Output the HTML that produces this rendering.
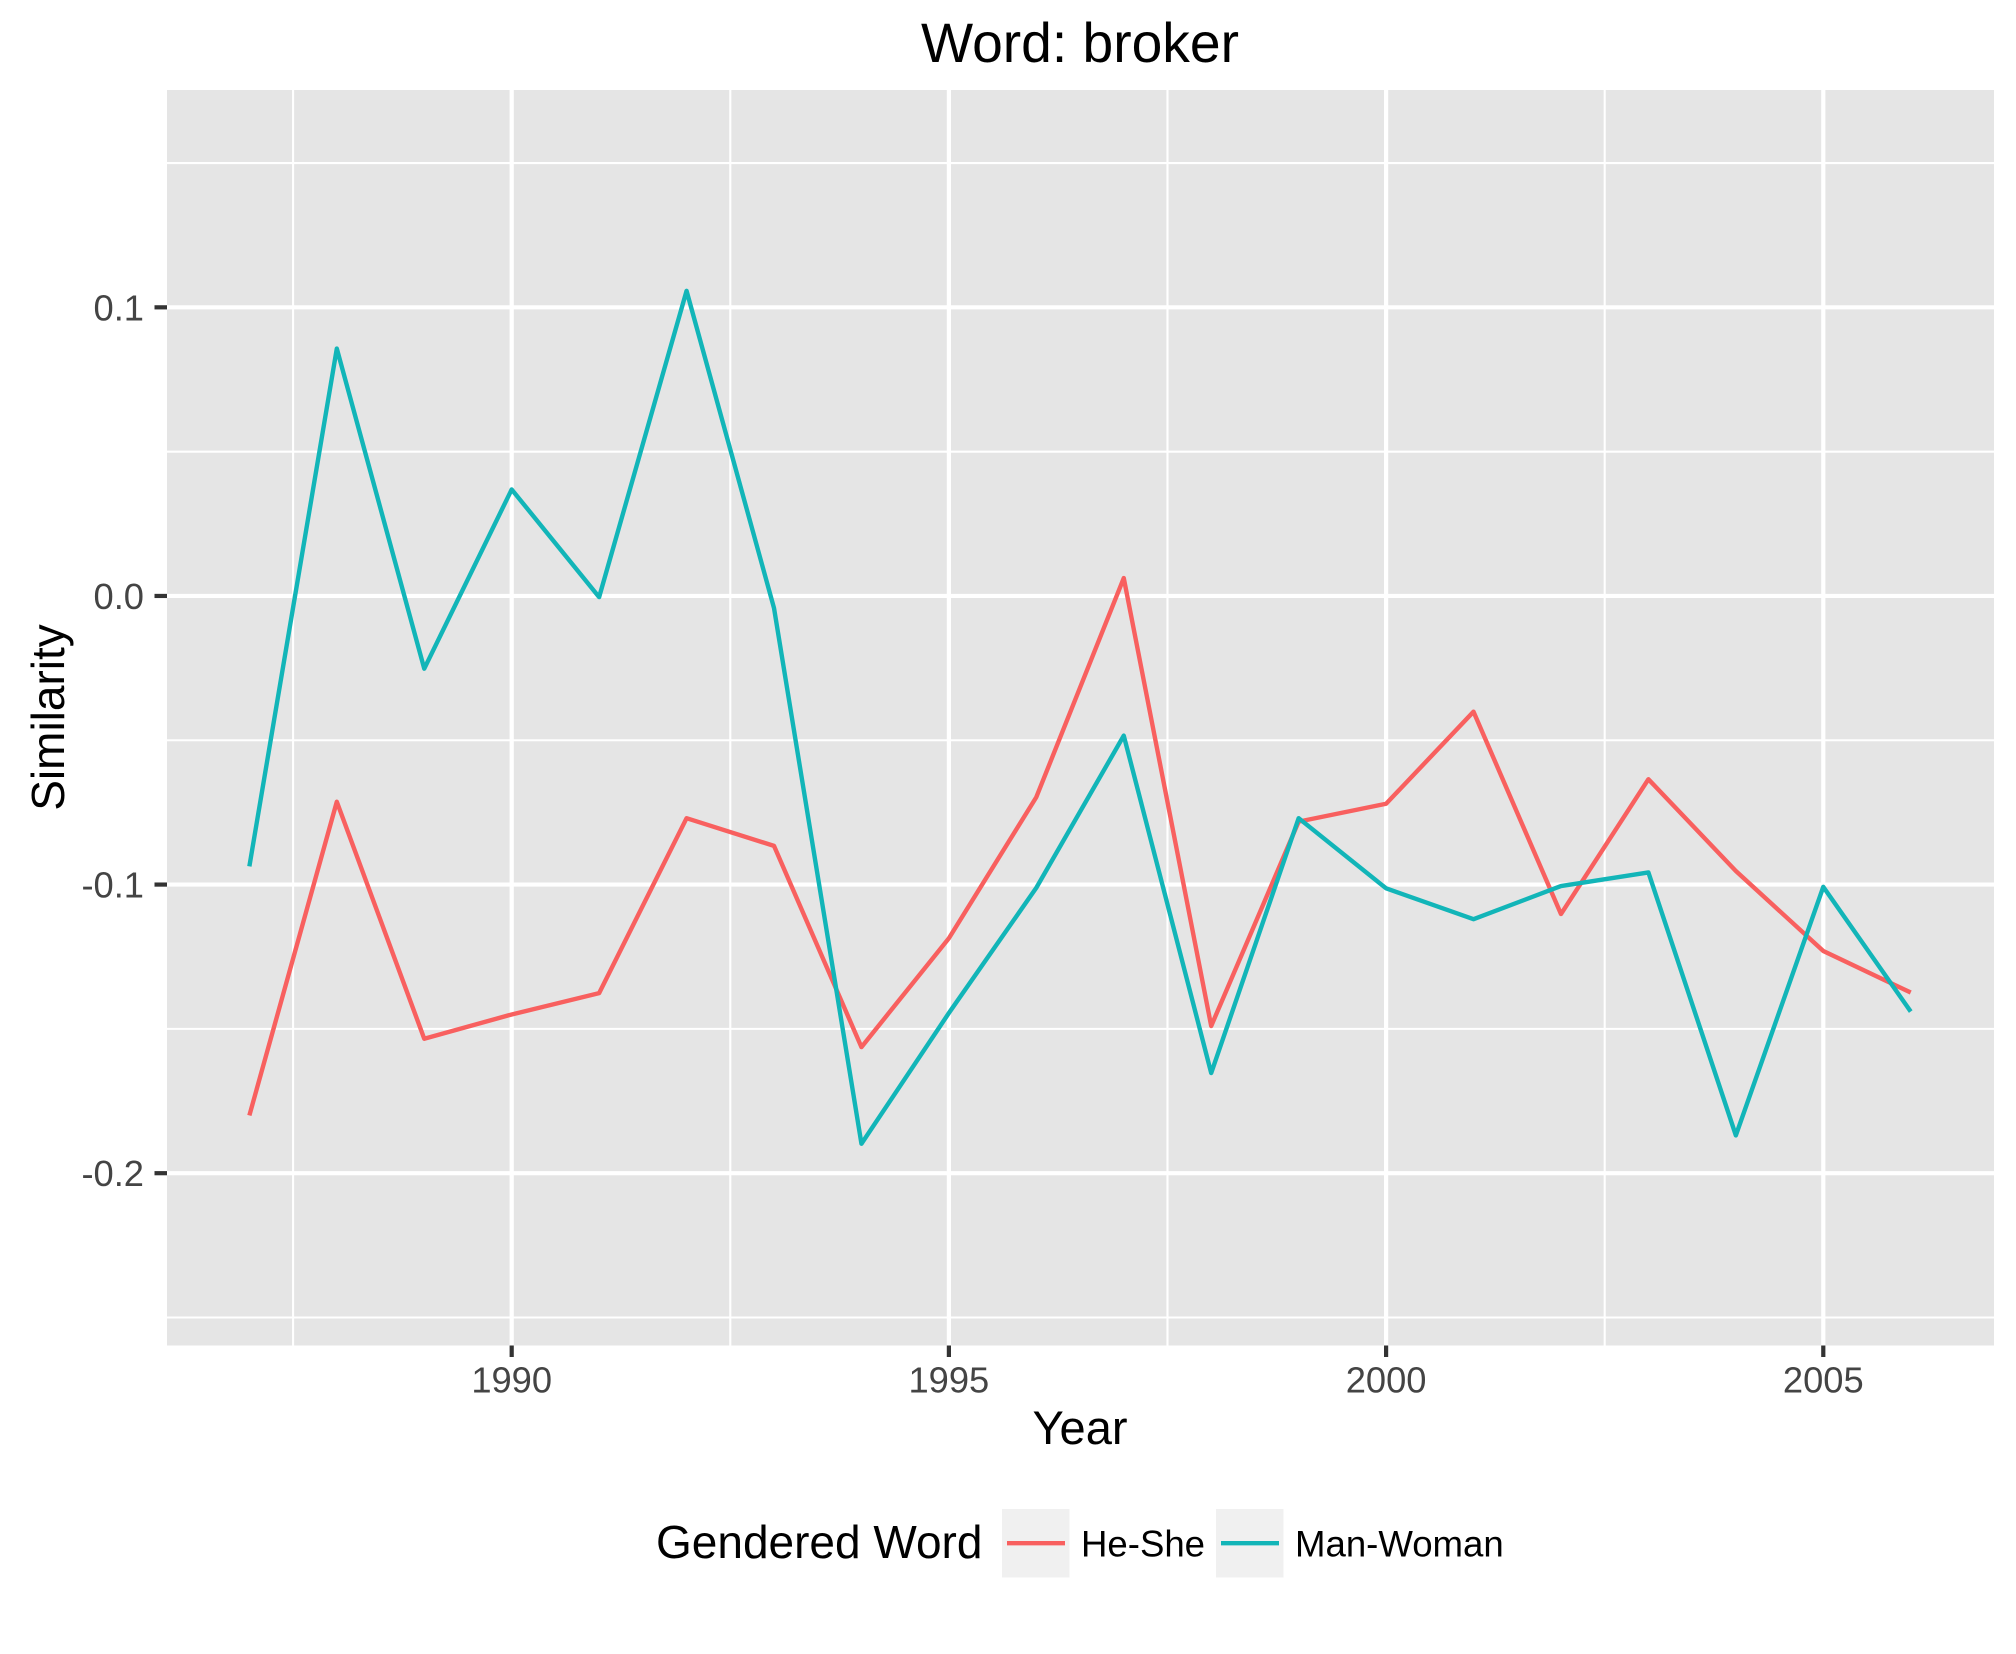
<!DOCTYPE html>
<html lang="en">
<head>
<meta charset="utf-8">
<title>Word: broker</title>
<style>
html,body{margin:0;padding:0;background:#fff;width:2016px;height:1654px;overflow:hidden}
svg{display:block;position:absolute;left:0;top:0}
text{font-family:"Liberation Sans",Arial,sans-serif}
</style>
</head>
<body>
<svg id="chart" xmlns="http://www.w3.org/2000/svg" width="2016" height="1654" viewBox="0 0 2016 1654">
  <rect x="0" y="0" width="2016" height="1654" fill="#ffffff"/>
  <rect x="167" y="90" width="1827" height="1255.5" fill="#e5e5e5"/>
  <g id="grid"></g>
  <g id="series"></g>
  <g id="axes"></g>
  <text x="1080" y="62" font-size="55.2" text-anchor="middle" fill="#000">Word: broker</text>
  <text x="1080" y="1444" font-size="47" text-anchor="middle" fill="#000">Year</text>
  <text transform="translate(64 717.5) rotate(-90)" font-size="46" text-anchor="middle" fill="#000">Similarity</text>
  <g>
    <text x="656" y="1558" font-size="46" fill="#000">Gendered Word</text>
    <g>
      <rect x="1002" y="1509" width="67.5" height="68.5" fill="#f0f0f0"/>
      <line x1="1007" x2="1065" y1="1543.2" y2="1543.2" stroke="#f8605f" stroke-width="4.4"/>
      <text x="1081" y="1556.5" font-size="36.6" fill="#000">He-She</text>
    </g>
    <g>
      <rect x="1216" y="1509" width="67.5" height="68.5" fill="#f0f0f0"/>
      <line x1="1221" x2="1279" y1="1543.2" y2="1543.2" stroke="#12b5b8" stroke-width="4.4"/>
      <text x="1295" y="1556.5" font-size="36.6" fill="#000">Man-Woman</text>
    </g>
  </g>
</svg>
<script>
const years = [1987,1988,1989,1990,1991,1992,1993,1994,1995,1996,1997,1998,1999,2000,2001,2002,2003,2004,2005,2006];
const heShe = [-0.1800,-0.0713,-0.1534,-0.1450,-0.1376,-0.0770,-0.0866,-0.1563,-0.1186,-0.0697,0.0062,-0.1490,-0.0782,-0.0720,-0.0401,-0.1102,-0.0635,-0.0953,-0.1230,-0.1374];
const manWoman = [-0.0937,0.0857,-0.0252,0.0369,-0.0004,0.1057,-0.0042,-0.1898,-0.1445,-0.1011,-0.0484,-0.1653,-0.0770,-0.1013,-0.1120,-0.1005,-0.0958,-0.1869,-0.1008,-0.1440];
const xTicks = [1990,1995,2000,2005];
const xMinorTicks = [1987.5,1992.5,1997.5,2002.5];
const yTicks = [-0.2,-0.1,0.0,0.1];
const yMinorTicks = [-0.25,-0.15,-0.05,0.05,0.15];
const xDomain = [1986.05,2006.95];
const yDomain = [-0.2597,0.1753];

const NS = 'http://www.w3.org/2000/svg';
const panel = {left:166.3,right:1993.8,top:90,bottom:1345.5};
function xScale(v){return panel.left+(v-xDomain[0])/(xDomain[1]-xDomain[0])*(panel.right-panel.left);}
function yScale(v){return panel.bottom-(v-yDomain[0])/(yDomain[1]-yDomain[0])*(panel.bottom-panel.top);}
function line(parent,x1,y1,x2,y2,stroke,width){
  const el=document.createElementNS(NS,'line');
  el.setAttribute('x1',x1);el.setAttribute('y1',y1);el.setAttribute('x2',x2);el.setAttribute('y2',y2);
  el.setAttribute('stroke',stroke);el.setAttribute('stroke-width',width);
  parent.appendChild(el);
  return el;
}
function label(parent,x,y,str,anchor){
  const el=document.createElementNS(NS,'text');
  el.setAttribute('x',x);el.setAttribute('y',y);el.setAttribute('font-size','36.3');
  el.setAttribute('text-anchor',anchor);el.setAttribute('fill','#444444');
  el.textContent=str;
  parent.appendChild(el);
  return el;
}
const grid=document.getElementById('grid');
const axes=document.getElementById('axes');
const series=document.getElementById('series');
const L=167,R=1994;

yMinorTicks.forEach(function(v){
  const el=line(grid,L,yScale(v),R,yScale(v),'#ffffff',2.1);
  
  
});
xMinorTicks.forEach(function(v){
  const el=line(grid,xScale(v),panel.top,xScale(v),panel.bottom,'#ffffff',2.1);
  
  
});
yTicks.forEach(function(v){
  const y=yScale(v);
  const g=line(grid,L,y,R,y,'#ffffff',4.2);
  
  
  const t=line(axes,154.5,y,L,y,'#333333',4.2);
  
  
  const s=label(axes,144,y+13,v.toFixed(1),'end');
  
  
});
xTicks.forEach(function(v){
  const x=xScale(v);
  const g=line(grid,x,panel.top,x,panel.bottom,'#ffffff',4.2);
  
  
  const t=line(axes,x,panel.bottom,x,1357,'#333333',4.2);
  
  
  const s=label(axes,x,1392.5,String(v),'middle');
  
  
});
function drawSeries(values,color){
  const el=document.createElementNS(NS,'polyline');
  el.setAttribute('points',values.map(function(v,i){return xScale(years[i]).toFixed(2)+','+yScale(v).toFixed(2);}).join(' '));
  el.setAttribute('fill','none');
  el.setAttribute('stroke',color);
  el.setAttribute('stroke-width','4.4');
  el.setAttribute('stroke-linejoin','round');
  el.setAttribute('stroke-linecap','butt');
  series.appendChild(el);
  return el;
}
const lineHeShe=drawSeries(heShe,'#f8605f');


const lineManWoman=drawSeries(manWoman,'#12b5b8');


</script>
</body>
</html>
